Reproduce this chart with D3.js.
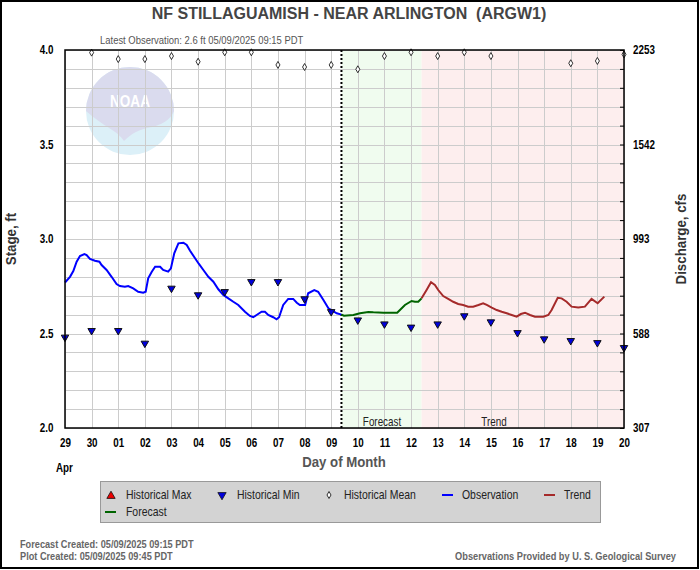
<!DOCTYPE html>
<html>
<head>
    <title>NF Stillaguamish - Near Arlington</title>
    <script src="https://cdn.jsdelivr.net/npm/d3@7/dist/d3.min.js"></script>
    <style>
        body { margin: 0; background: white; }
        text { font-family: "Liberation Sans", Arial, sans-serif; }
    </style>
</head>
<body>
    <svg width="700" height="570"></svg>
    <script>
        // stage, ft  (times are PDT)
        const obsTimes = ["04-29 00:00","04-29 04:30","04-29 07:30","04-29 10:30","04-29 13:30","04-29 17:30","04-29 19:30","04-29 22:30",
            "04-30 03:00","04-30 07:00","04-30 09:00","04-30 13:30","04-30 18:00","04-30 22:30",
            "05-01 01:30","05-01 06:00","05-01 09:00","05-01 13:30","05-01 18:00","05-01 22:30",
            "05-02 00:45","05-02 03:00","05-02 06:15","05-02 09:15","05-02 13:45","05-02 16:30","05-02 21:00","05-02 23:30",
            "05-03 02:30","05-03 06:15","05-03 10:45","05-03 13:45","05-03 16:45","05-03 21:15",
            "05-04 00:45","05-04 04:45","05-04 09:15","05-04 13:45","05-04 18:15","05-04 22:45",
            "05-05 03:15","05-05 07:45","05-05 12:15","05-05 18:15","05-05 22:45",
            "05-06 01:45","05-06 04:45","05-06 09:15","05-06 12:15","05-06 15:15","05-06 19:45","05-06 22:45",
            "05-07 01:00","05-07 04:45","05-07 09:15","05-07 13:45","05-07 17:00","05-07 19:45",
            "05-08 00:30","05-08 03:15","05-08 08:45","05-08 12:15","05-08 17:00","05-08 21:30",
            "05-09 01:00","05-09 05:00","05-09 09:15"];
        const obsStage = [2.77,2.80,2.83,2.88,2.91,2.92,2.915,2.895,
            2.885,2.88,2.862,2.836,2.80,2.762,
            2.751,2.747,2.751,2.739,2.721,2.716,
            2.721,2.792,2.827,2.853,2.853,2.836,2.827,2.845,
            2.924,2.977,2.98,2.968,2.938,2.898,
            2.868,2.836,2.80,2.774,2.734,2.704,
            2.686,2.668,2.651,2.615,2.593,
            2.586,2.598,2.615,2.615,2.598,2.586,2.575,
            2.586,2.651,2.683,2.683,2.663,2.651,
            2.651,2.713,2.73,2.721,2.677,2.633,
            2.621,2.607,2.60];

        const fcstTimes = ["05-09 09:15","05-09 11:30","05-09 20:00","05-10 02:00","05-10 09:30","05-10 14:00","05-10 23:00",
            "05-11 11:30","05-11 18:30","05-12 00:30","05-12 03:30","05-12 06:30","05-12 09:30"];
        const fcstStage = [2.60,2.594,2.598,2.607,2.614,2.612,2.61,2.61,2.651,2.672,2.668,2.668,2.686];

        const trendTimes = ["05-12 09:30","05-12 14:00","05-12 18:00","05-12 21:30","05-13 00:30","05-13 05:00","05-13 09:30","05-13 14:00",
            "05-13 18:30","05-13 23:00","05-14 03:30","05-14 08:00","05-14 12:45","05-14 17:00","05-14 20:15",
            "05-15 00:45","05-15 05:15","05-15 09:45","05-15 14:15","05-15 18:45","05-15 23:15",
            "05-16 03:00","05-16 06:45","05-16 11:15","05-16 15:45","05-16 23:15",
            "05-17 03:45","05-17 06:45","05-17 12:15","05-17 15:45","05-17 20:15",
            "05-18 00:45","05-18 06:45","05-18 12:45","05-18 18:45","05-19 00:15","05-19 06:15"];
        const trendStage = [2.686,2.73,2.771,2.757,2.73,2.698,2.683,2.668,
            2.656,2.651,2.642,2.642,2.651,2.66,2.651,
            2.637,2.624,2.615,2.607,2.598,2.589,
            2.603,2.61,2.598,2.589,2.589,
            2.598,2.624,2.689,2.686,2.668,
            2.642,2.637,2.642,2.683,2.66,2.695];

        const days = ["04-29","04-30","05-01","05-02","05-03","05-04","05-05","05-06","05-07","05-08","05-09",
            "05-10","05-11","05-12","05-13","05-14","05-15","05-16","05-17","05-18","05-19","05-20"];
        const histMin = [2.48,2.515,2.515,2.448,2.739,2.704,2.721,2.774,2.774,2.683,2.615,
            2.571,2.55,2.533,2.55,2.593,2.561,2.504,2.471,2.462,2.451,2.425];
        const histMean = [null,3.986,3.952,3.952,3.968,3.938,3.988,3.988,3.921,3.91,3.921,
            3.898,3.968,3.988,3.968,3.988,3.968,null,null,3.93,3.942,3.977];

        const stageTicks = [2.0, 2.5, 3.0, 3.5, 4.0];
        const flowLabels = ["307", "588", "993", "1542", "2253"];

        const latestObs = "05-09 09:15";

        const parse = d3.timeParse("%Y-%m-%d %H:%M");
        const t = s => parse("2025-" + s + (s.length === 5 ? " 00:00" : ""));

        const svg = d3.select("svg");
        const pLeft = 65, pRight = 624, pTop = 50, pBottom = 428;
        const squeeze = 0.82;   // the original uses a narrow face

        const x = d3.scaleTime().domain([t("04-29"), t("05-20")]).range([pLeft, pRight]);
        const y = d3.scaleLinear().domain([2, 4]).range([pBottom, pTop]);

        // frame round the whole picture
        svg.append("rect").attr("x", 1).attr("y", 1).attr("width", 697).attr("height", 567)
            .attr("fill", "white").attr("stroke", "black").attr("stroke-width", 2);

        // shaded forecast and trend zones
        const fcEnd = t(fcstTimes[fcstTimes.length - 1]);
        svg.append("rect").attr("x", x(t(latestObs))).attr("y", pTop)
            .attr("width", x(fcEnd) - x(t(latestObs))).attr("height", pBottom - pTop)
            .attr("fill", "#f0fcef");
        svg.append("rect").attr("x", x(fcEnd)).attr("y", pTop)
            .attr("width", pRight - x(fcEnd)).attr("height", pBottom - pTop)
            .attr("fill", "#fdeeee");

        // NOAA watermark
        const logo = svg.append("g").attr("transform", "translate(130,111)");
        logo.append("circle").attr("r", 44).attr("fill", "#dcf0f8");
        logo.append("path")
            .attr("d", "M-44,0 A44,44 0 0,1 44,0 C40,10 30,14 22,16 C10,18 2,22 -6,30 C-12,20 -26,16 -44,0 Z")
            .attr("fill", "#dadbee");
        logo.append("text").attr("transform", "translate(0,-4) scale(0.8,1)").attr("text-anchor", "middle")
            .attr("font-weight", "bold").attr("font-size", 17).attr("fill", "white")
            .text("NOAA");

        // grid
        const grid = svg.append("g").attr("stroke", "#cccccc").attr("stroke-width", 1);
        grid.selectAll(".h").data(d3.range(21).map(i => 2 + i * 0.1)).join("line")
            .attr("x1", pLeft).attr("x2", pRight)
            .attr("y1", d => Math.round(y(d)) + 0.5).attr("y2", d => Math.round(y(d)) + 0.5);
        grid.selectAll(".v").data(days).join("line")
            .attr("y1", pTop).attr("y2", pBottom)
            .attr("x1", d => Math.round(x(t(d))) + 0.5).attr("x2", d => Math.round(x(t(d))) + 0.5);

        // latest observation marker
        svg.append("line")
            .attr("x1", x(t(latestObs))).attr("x2", x(t(latestObs)))
            .attr("y1", pTop).attr("y2", pBottom)
            .attr("stroke", "black").attr("stroke-width", 2).attr("stroke-dasharray", "2,2");

        // narrow text helper
        const label = (px, py, txt, size, opts = {}) => svg.append("text")
            .attr("transform", `translate(${px},${py})${opts.rotate ? " rotate(-90)" : ""} scale(${opts.sx || squeeze},1)`)
            .attr("text-anchor", opts.anchor || "start")
            .attr("font-size", size)
            .attr("font-weight", opts.bold ? "bold" : "normal")
            .attr("fill", opts.fill || "black")
            .style("white-space", "pre")
            .text(txt);

        label(382, 426, "Forecast", 12, { anchor: "middle", fill: "#222" });
        label(494, 426, "Trend", 12, { anchor: "middle", fill: "#222" });

        // series
        const line = d3.line().x(d => x(d[0])).y(d => y(d[1]));
        const pairs = (ts, vs) => ts.map((s, i) => [t(s), vs[i]]);
        svg.append("path").datum(pairs(obsTimes, obsStage)).attr("d", line)
            .attr("fill", "none").attr("stroke", "#0000ff").attr("stroke-width", 2);
        svg.append("path").datum(pairs(fcstTimes, fcstStage)).attr("d", line)
            .attr("fill", "none").attr("stroke", "#006400").attr("stroke-width", 2);
        svg.append("path").datum(pairs(trendTimes, trendStage)).attr("d", line)
            .attr("fill", "none").attr("stroke", "#a52a2a").attr("stroke-width", 2);

        // historical markers
        const triDown = d3.symbol().type(d3.symbolTriangle).size(24);
        svg.selectAll(".hmin").data(days.map((d, i) => [t(d), histMin[i]])).join("path")
            .attr("d", triDown)
            .attr("transform", d => `translate(${x(d[0])},${y(d[1])}) rotate(180)`)
            .attr("fill", "#0000dd").attr("stroke", "#111").attr("stroke-width", 1);
        const diamond = d3.symbol().type(d3.symbolDiamond).size(14);
        svg.selectAll(".hmean").data(days.map((d, i) => [t(d), histMean[i]]).filter(d => d[1] !== null)).join("path")
            .attr("d", diamond)
            .attr("transform", d => `translate(${x(d[0])},${y(d[1])})`)
            .attr("fill", "white").attr("stroke", "black").attr("stroke-width", 0.8);

        // plot frame
        svg.append("rect").attr("x", pLeft).attr("y", pTop)
            .attr("width", pRight - pLeft).attr("height", pBottom - pTop)
            .attr("fill", "none").attr("stroke", "black").attr("stroke-width", 1.5);

        // axes
        const yLeft = svg.append("g").attr("transform", `translate(${pLeft},0)`)
            .call(d3.axisLeft(y).tickValues(stageTicks).tickSize(0).tickPadding(14).tickFormat(d3.format(".1f")));
        yLeft.select(".domain").remove();

        const yRightMinor = svg.append("g").attr("transform", `translate(${pRight},0)`)
            .call(d3.axisRight(y).tickValues(d3.range(21).map(i => 2 + i * 0.1)).tickSize(-4).tickFormat(""));
        yRightMinor.select(".domain").remove();
        yRightMinor.selectAll("line").attr("stroke", "black");

        const yRight = svg.append("g").attr("transform", `translate(${pRight},0)`)
            .call(d3.axisRight(y).tickValues(stageTicks).tickSize(0).tickPadding(11)
                .tickFormat(d => flowLabels[stageTicks.indexOf(d)]));
        yRight.select(".domain").remove();

        const xAxis = svg.append("g").attr("transform", `translate(0,${pBottom})`)
            .call(d3.axisBottom(x).tickValues(days.map(t)).tickSize(0).tickPadding(10).tickFormat(d3.timeFormat("%d")));
        xAxis.select(".domain").remove();

        [yLeft, yRight, xAxis].forEach(g => g.selectAll("text")
            .attr("font-size", 12).attr("font-weight", "bold").attr("fill", "black")
            .attr("font-family", "Liberation Sans, Arial, sans-serif")
            .attr("transform", `scale(${squeeze},1)`));

        // labels
        label(349, 19, "NF STILLAGUAMISH - NEAR ARLINGTON  (ARGW1)", 16, { anchor: "middle", bold: true, fill: "#444", sx: 1 });
        label(100, 44, "Latest Observation: 2.6 ft 05/09/2025 09:15 PDT", 11, { fill: "#555", sx: 0.86 });
        label(16, 239, "Stage, ft", 14, { anchor: "middle", bold: true, fill: "#333", rotate: true, sx: 0.95 });
        label(686, 239, "Discharge, cfs", 14, { anchor: "middle", bold: true, fill: "#333", rotate: true, sx: 0.95 });
        label(344, 467, "Day of Month", 15, { anchor: "middle", bold: true, fill: "#555", sx: 0.88 });
        label(56, 472, "Apr", 12, { bold: true });

        // legend
        const lg = svg.append("g").attr("font-size", 12).attr("fill", "#222");
        lg.append("rect").attr("x", 100.5).attr("y", 481.5).attr("width", 500).attr("height", 41)
            .attr("fill", "#d3d3d3").attr("stroke", "#999");
        const legendText = (px, py, txt) => lg.append("text")
            .attr("transform", `translate(${px},${py}) scale(0.87,1)`)
            .attr("font-family", "DejaVu Sans, sans-serif").text(txt);
        lg.append("path").attr("d", d3.symbol().type(d3.symbolTriangle).size(30))
            .attr("transform", "translate(111,496)").attr("fill", "#ee0000").attr("stroke", "#111").attr("stroke-width", 0.8);
        legendText(126, 499, "Historical Max");
        lg.append("path").attr("d", d3.symbol().type(d3.symbolTriangle).size(30))
            .attr("transform", "translate(222,495) rotate(180)").attr("fill", "#0000dd").attr("stroke", "#111").attr("stroke-width", 0.8);
        legendText(237, 499, "Historical Min");
        lg.append("path").attr("d", diamond).attr("transform", "translate(329,495)")
            .attr("fill", "white").attr("stroke", "black").attr("stroke-width", 0.8);
        legendText(344, 499, "Historical Mean");
        lg.append("line").attr("x1", 442).attr("x2", 453).attr("y1", 495).attr("y2", 495).attr("stroke", "#0000ff").attr("stroke-width", 2);
        legendText(462, 499, "Observation");
        lg.append("line").attr("x1", 544).attr("x2", 555).attr("y1", 495).attr("y2", 495).attr("stroke", "#a52a2a").attr("stroke-width", 2);
        legendText(564, 499, "Trend");
        lg.append("line").attr("x1", 105).attr("x2", 116).attr("y1", 512).attr("y2", 512).attr("stroke", "#006400").attr("stroke-width", 2);
        legendText(126, 516, "Forecast");

        // footer
        label(20, 548, "Forecast Created: 05/09/2025 09:15 PDT", 10, { bold: true, fill: "#666", sx: 0.92 });
        label(20, 560, "Plot Created: 05/09/2025 09:45 PDT", 10, { bold: true, fill: "#666", sx: 0.92 });
        label(676, 560, "Observations Provided by U. S. Geological Survey", 10, { anchor: "end", bold: true, fill: "#666", sx: 0.925 });
    </script>
</body>
</html>
